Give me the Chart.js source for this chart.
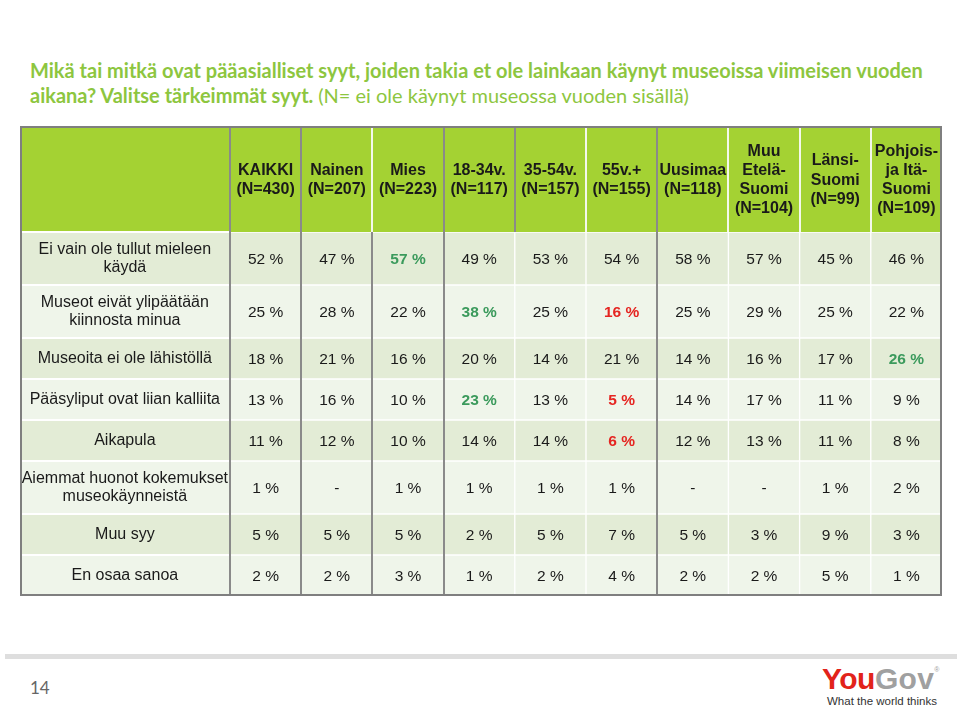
<!DOCTYPE html>
<html>
<head>
<meta charset="utf-8">
<script src="https://cdn.jsdelivr.net/npm/chart.js@4.4.1/dist/chart.umd.min.js"></script>
<style>
  body { margin: 0; background: #fff; }
  #page { position: relative; width: 960px; height: 708px; overflow: hidden; font-family: 'Liberation Sans', Arial, sans-serif; }
  #title { position: absolute; left: 30px; top: 58px; font-family: Lato, sans-serif; font-size: 20px; line-height: 25px; color: #8dc63f; font-weight: bold; white-space: nowrap; }
  #title span { font-weight: normal; }
  #wrap { position: absolute; left: 20px; top: 126px; width: 922px; height: 470px; }
  #bar { position: absolute; left: 5px; top: 654px; width: 952px; height: 5px; background: #dedede; }
  #pageno { position: absolute; left: 30px; top: 677px; font-family: Lato, sans-serif; font-size: 17px; color: #666; }
  #logo { position: absolute; left: 822px; top: 654px; font-family: 'Liberation Sans', Arial, sans-serif; font-weight: bold; font-size: 30px; letter-spacing: -0.5px; line-height: 32px; white-space: nowrap; }
  #logo .you { color: #e2231a; }
  #logo .gov { color: #a0a0a0; letter-spacing: 0.3px; }
  #logo sup { font-size: 7px; color: #a0a0a0; font-weight: normal; vertical-align: 17px; }
  #slogan { position: absolute; left: 827px; top: 695px; font-size: 11.5px; color: #333; white-space: nowrap; }
</style>
</head>
<body>
<div id="page">
  <div id="title">Mikä tai mitkä ovat pääasialliset syyt, joiden takia et ole lainkaan käynyt museoissa viimeisen vuoden<br>aikana? Valitse tärkeimmät syyt. <span>(N= ei ole käynyt museossa vuoden sisällä)</span></div>
  <div id="wrap"><canvas id="taulu"></canvas></div>
  <div id="bar"></div>
  <div id="pageno">14</div>
  <div id="logo"><span class="you">You</span><span class="gov">Gov</span><sup>®</sup></div>
  <div id="slogan">What the world thinks</div>
</div>
<script>
// sarakkeet (taustaryhmät)
const columns = [
  ['KAIKKI', '(N=430)'],
  ['Nainen', '(N=207)'],
  ['Mies', '(N=223)'],
  ['18-34v.', '(N=117)'],
  ['35-54v.', '(N=157)'],
  ['55v.+', '(N=155)'],
  ['Uusimaa', '(N=118)'],
  ['Muu', 'Etelä-', 'Suomi', '(N=104)'],
  ['Länsi-', 'Suomi', '(N=99)'],
  ['Pohjois-', 'ja Itä-', 'Suomi', '(N=109)']
];

// syyt (rivit)
const reasons = [
  ['Ei vain ole tullut mieleen', 'käydä'],
  ['Museot eivät ylipäätään', 'kiinnosta minua'],
  'Museoita ei ole lähistöllä',
  'Pääsyliput ovat liian kalliita',
  'Aikapula',
  ['Aiemmat huonot kokemukset', 'museokäynneistä'],
  'Muu syy',
  'En osaa sanoa'
];

// prosentit, null = "-"
const eiMieleen = [52, 47, 57, 49, 53, 54, 58, 57, 45, 46];
const eiKiinnosta = [25, 28, 22, 38, 25, 16, 25, 29, 25, 22];
const eiLahella = [18, 21, 16, 20, 14, 21, 14, 16, 17, 26];
const liianKallis = [13, 16, 10, 23, 13, 5, 14, 17, 11, 9];
const aikapula = [11, 12, 10, 14, 14, 6, 12, 13, 11, 8];
const huonotKokemukset = [1, null, 1, 1, 1, 1, null, null, 1, 2];
const muuSyy = [5, 5, 5, 2, 5, 7, 5, 3, 9, 3];
const eos = [2, 2, 3, 1, 2, 4, 2, 2, 5, 1];
const values = [eiMieleen, eiKiinnosta, eiLahella, liianKallis, aikapula, huonotKokemukset, muuSyy, eos];

// merkitsevästi suuremmat / pienemmät [rivi, sarake]
const higher = [[0, 2], [1, 3], [2, 9], [3, 3]];
const lower = [[1, 5], [3, 5], [4, 5]];

const HEADER = '#a4d233';
const BAND_DARK = '#e3ecd6';
const BAND_LIGHT = '#eff5ea';
const GRAY = '#8a8a8a';

// rivin korkeus riippuu tekstirivien määrästä
const starts = [];
const ends = [];
let pos = 0;
reasons.forEach(r => {
  const lines = Array.isArray(r) ? r.length : 1;
  starts.push(pos);
  pos += 41 + 12 * (lines - 1);
  ends.push(pos);
});
const total = pos;
const centers = starts.map((s, i) => (s + ends[i]) / 2);

const isIn = (list, r, c) => list.some(p => p[0] === r && p[1] === c);

const tablePlugin = {
  id: 'taulukko',
  beforeDraw(chart) {
    const ctx = chart.ctx;
    const area = chart.chartArea;
    const y = chart.scales.y;
    ctx.save();
    ctx.fillStyle = '#fff';
    ctx.fillRect(0, 0, chart.width, chart.height);
    ctx.fillStyle = HEADER;
    ctx.fillRect(0, 0, chart.width, area.top);
    starts.forEach((s, i) => {
      const top = y.getPixelForValue(s);
      const bottom = y.getPixelForValue(ends[i]);
      ctx.fillStyle = i % 2 === 0 ? BAND_DARK : BAND_LIGHT;
      ctx.fillRect(0, top, area.left, bottom - top);
      ctx.fillStyle = '#fff';
      ctx.fillRect(0, top - 1, area.left, 2);
    });
    ctx.restore();
  },
  afterDatasetsDraw(chart) {
    const ctx = chart.ctx;
    ctx.save();
    ctx.textAlign = 'center';
    ctx.textBaseline = 'middle';
    chart.data.datasets.forEach((ds, r) => {
      chart.getDatasetMeta(r).data.forEach((el, c) => {
        const v = ds.values[c];
        const p = el.getCenterPoint();
        let color = '#1a1a1a';
        let weight = 'normal';
        if (isIn(higher, r, c)) { color = '#3b9a5c'; weight = 'bold'; }
        if (isIn(lower, r, c)) { color = '#e52521'; weight = 'bold'; }
        ctx.fillStyle = color;
        ctx.font = weight + ' 15.5px "Liberation Sans", Arial, sans-serif';
        ctx.fillText(v === null ? '-' : v + ' %', p.x, p.y + 1);
      });
    });
    ctx.restore();
  },
  afterDraw(chart) {
    const ctx = chart.ctx;
    const area = chart.chartArea;
    const x = chart.scales.x;
    const headGray = [0, 1, 3, 4, 6];
    const bodyGray = [0, 1, 2, 3, 6];
    ctx.save();
    for (let i = 0; i < columns.length; i++) {
      const px = Math.round(x.getPixelForValue(i - 0.5));
      ctx.fillStyle = headGray.includes(i) ? GRAY : '#f4f8ec';
      ctx.fillRect(px - 1, 0, 2, area.top);
      if (bodyGray.includes(i)) {
        ctx.fillStyle = GRAY;
        ctx.fillRect(px - 1, area.top, 2, area.bottom - area.top);
      }
    }
    ctx.strokeStyle = '#7f7f7f';
    ctx.lineWidth = 2;
    ctx.strokeRect(1, 1, chart.width - 2, chart.height - 2);
    ctx.restore();
  }
};

new Chart(document.getElementById('taulu'), {
  type: 'bar',
  data: {
    labels: columns,
    datasets: values.map((row, r) => ({
      label: Array.isArray(reasons[r]) ? reasons[r].join(' ') : reasons[r],
      data: row.map(() => [starts[r], ends[r]]),
      values: row,
      backgroundColor: r % 2 === 0 ? BAND_DARK : BAND_LIGHT,
      borderColor: '#ffffff',
      borderWidth: 1,
      borderSkipped: false,
      grouped: false,
      barPercentage: 1,
      categoryPercentage: 1
    }))
  },
  options: {
    responsive: true,
    maintainAspectRatio: false,
    animation: false,
    layout: { padding: 0 },
    plugins: {
      legend: { display: false },
      tooltip: { enabled: false },
      title: { display: false }
    },
    scales: {
      x: {
        position: 'top',
        grid: { display: false, drawTicks: false },
        border: { display: false },
        ticks: {
          autoSkip: false,
          maxRotation: 0,
          crossAlign: 'center',
          padding: 23,
          color: '#1a1a1a',
          font: { family: '"Liberation Sans", Arial, sans-serif', size: 16, weight: 'bold', lineHeight: 1.2 }
        },
        afterFit(scale) {
          scale.height = 106;
          scale.paddingLeft = 0;
          scale.paddingRight = 0;
        }
      },
      y: {
        min: 0,
        max: total,
        reverse: true,
        grid: { display: false, drawTicks: false },
        border: { display: false },
        afterBuildTicks(axis) {
          axis.ticks = centers.map(v => ({ value: v }));
        },
        ticks: {
          autoSkip: false,
          crossAlign: 'center',
          padding: 2,
          color: '#1a1a1a',
          font: { family: '"Liberation Sans", Arial, sans-serif', size: 16, lineHeight: 1.15 },
          callback: (value, index) => reasons[index]
        },
        afterFit(scale) {
          scale.width = 210;
          scale.paddingTop = 0;
          scale.paddingBottom = 0;
        }
      }
    }
  },
  plugins: [tablePlugin]
});
</script>
</body>
</html>
